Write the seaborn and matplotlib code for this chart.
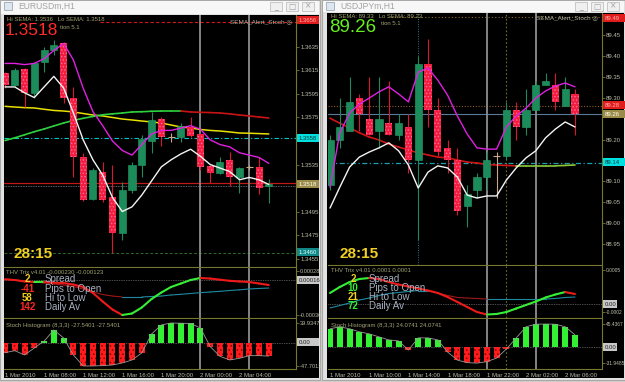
import numpy as np
import pandas as pd
import matplotlib
matplotlib.use("Agg")
import matplotlib.pyplot as plt
import seaborn as sns
from matplotlib.patches import Rectangle

# ---------------- data : EURUSDm H1 ----------------
eur_time_labels = ["1 Mar 2010", "1 Mar 08:00", "1 Mar 12:00", "1 Mar 16:00",
                   "1 Mar 20:00", "2 Mar 00:00", "2 Mar 04:00"]
eur_time_idx = [0, 4, 8, 12, 16, 20, 24]
eur_open = [1.3613, 1.3603, 1.3616, 1.3596, 1.3622, 1.3632, 1.3638, 1.3592, 1.3541, 1.3506,
            1.3529, 1.3507, 1.3477, 1.3513, 1.3535, 1.3555, 1.3574, 1.3558, 1.3558, 1.3567,
            1.3561, 1.3534, 1.3528, 1.3539, 1.3524, 1.3533, 1.3533, 1.3517]
eur_high = [1.3614, 1.3617, 1.3617, 1.3622, 1.3635, 1.3641, 1.3639, 1.3601, 1.3545, 1.3532,
            1.3537, 1.3535, 1.3520, 1.3537, 1.3560, 1.3580, 1.3575, 1.3562, 1.3570, 1.3575,
            1.3562, 1.3535, 1.3541, 1.3546, 1.3533, 1.3535, 1.3541, 1.3523]
eur_low = [1.3600, 1.3602, 1.3584, 1.3592, 1.3614, 1.3628, 1.3587, 1.3524, 1.3504, 1.3505,
           1.3503, 1.3460, 1.3471, 1.3511, 1.3524, 1.3545, 1.3551, 1.3554, 1.3554, 1.3558,
           1.3530, 1.3519, 1.3527, 1.3517, 1.3511, 1.3530, 1.3510, 1.3502]
eur_close = [1.3603, 1.3615, 1.3596, 1.3621, 1.3632, 1.3637, 1.3592, 1.3541, 1.3505, 1.3530,
             1.3505, 1.3477, 1.3513, 1.3535, 1.3557, 1.3573, 1.3558, 1.3558, 1.3568, 1.3559,
             1.3533, 1.3528, 1.3537, 1.3524, 1.3532, 1.3533, 1.3515, 1.3518]
eur_lo_sema = [1.3601, 1.3601, 1.3596, 1.3592, 1.3601, 1.3610, 1.3600, 1.3579, 1.3556, 1.3539,
               1.3526, 1.3507, 1.3495, 1.3499, 1.3509, 1.3521, 1.3533, 1.3539, 1.3544, 1.3548,
               1.3542, 1.3535, 1.3532, 1.3529, 1.3522, 1.3524, 1.3522, 1.3518]
eur_hi_sema = [1.3621, 1.3621, 1.3620, 1.3621, 1.3625, 1.3632, 1.3638, 1.3624, 1.3600, 1.3580,
               1.3568, 1.3555, 1.3547, 1.3543, 1.3552, 1.3561, 1.3564, 1.3564, 1.3566, 1.3568,
               1.3565, 1.3556, 1.3552, 1.3550, 1.3545, 1.3543, 1.3541, 1.3536]
eur_ma_mid = [1.35845, 1.35839, 1.35834, 1.35831, 1.35820, 1.35810, 1.35805, 1.35797, 1.35784,
              1.35771, 1.35763, 1.35750, 1.35737, 1.35729, 1.35720, 1.35712, 1.35703, 1.35686,
              1.35669, 1.35661, 1.35648, 1.35640, 1.35635, 1.35627, 1.35618, 1.35616, 1.35613,
              1.35610]
eur_ma_long = [1.35554, 1.35577, 1.35603, 1.35629, 1.35652, 1.35678, 1.35703, 1.35725, 1.35743,
               1.35759, 1.35773, 1.35781, 1.35788, 1.35797, 1.35799, 1.35803, 1.35805, 1.35805,
               1.35805, 1.35797, 1.35794, 1.35792, 1.35788, 1.35781, 1.35771, 1.35763, 1.35754,
               1.35746]
eur_trix_main = [0.000176, 0.000167, 0.000147, 0.000140, 0.000143, 0.000130, 0.000127, 0.000106,
                 0.000074, -0.000006, -0.000120, -0.000227, -0.000300, -0.000280, -0.000200,
                 -0.000087, 0.000000, 0.000074, 0.000120, 0.000167, 0.000194, 0.000186, 0.000171,
                 0.000156, 0.000147, 0.000140, 0.000120, 0.000100]
eur_trix_signal = [0.000180, 0.000167, 0.000154, 0.000140, 0.000127, 0.000114, 0.000100, 0.000080,
                   0.000047, 0.000007, -0.000027, -0.000047, -0.000060, -0.000060, -0.000060,
                   -0.000053, -0.000047, -0.000033, -0.000024, -0.000013, -0.000002, 0.000007,
                   0.000016, 0.000027, 0.000036, 0.000047, 0.000054, 0.000060]
eur_stoch = [-20.6, -16.5, -25.3, -11.0, 3.0, 25.7, 9.4, -25.3, -47.7, -47.7, -47.0, -45.7, -41.6,
             -35.5, -21.2, 17.5, 36.0, 39.93, 39.5, 39.0, 29.8, -8.0, -28.0, -35.5, -32.0, -26.7,
             -26.7, -27.54]
eur_price_ticks = [1.3635, 1.3615, 1.3595, 1.3575, 1.3535, 1.3495, 1.3475, 1.3455]
eur_vlines = [20, 25]
eur_info_values = ["2", "-41", "58", "142"]

# ---------------- data : USDJPYm H1 ----------------
jpy_time_labels = ["1 Mar 2010", "1 Mar 10:00", "1 Mar 14:00", "1 Mar 18:00",
                   "1 Mar 22:00", "2 Mar 02:00", "2 Mar 06:00"]
jpy_time_idx = [0, 4, 8, 12, 16, 20, 24]
jpy_open = [89.09, 89.20, 89.22, 89.30, 89.25, 89.22, 89.24, 89.21, 89.23, 89.15, 89.38, 89.27, 89.18,
            89.15, 89.04, 89.08, 89.11, 89.16, 89.16, 89.27, 89.23, 89.27, 89.33, 89.33, 89.28, 89.31]
jpy_high = [89.21, 89.30, 89.35, 89.31, 89.35, 89.35, 89.34, 89.26, 89.26, 89.40, 89.44, 89.30, 89.20,
            89.18, 89.09, 89.12, 89.17, 89.17, 89.29, 89.29, 89.32, 89.34, 89.36, 89.36, 89.35, 89.32]
jpy_low = [89.08, 89.18, 89.22, 89.22, 89.21, 89.18, 89.21, 89.20, 89.12, 88.96, 89.23, 89.16, 89.12,
           89.02, 88.99, 89.06, 89.08, 89.06, 89.15, 89.20, 89.21, 89.27, 89.33, 89.27, 89.28, 89.21]
jpy_close = [89.20, 89.23, 89.29, 89.26, 89.21, 89.25, 89.21, 89.24, 89.15, 89.38, 89.27, 89.17, 89.15,
             89.03, 89.07, 89.11, 89.15, 89.16, 89.27, 89.23, 89.27, 89.33, 89.34, 89.29, 89.32, 89.26]
jpy_lo_sema = [89.036, 89.086, 89.134, 89.158, 89.170, 89.180, 89.192, 89.173, 89.139, 89.084, 89.122,
               89.137, 89.132, 89.110, 89.067, 89.060, 89.065, 89.065, 89.103, 89.132, 89.156, 89.173,
               89.204, 89.225, 89.242, 89.230]
jpy_hi_sema = [89.086, 89.216, 89.263, 89.285, 89.299, 89.314, 89.326, 89.309, 89.290, 89.361, 89.371,
               89.342, 89.306, 89.256, 89.213, 89.180, 89.177, 89.177, 89.230, 89.256, 89.275, 89.299,
               89.316, 89.328, 89.335, 89.326]
jpy_ma_long = [89.251, 89.239, 89.228, 89.216, 89.206, 89.199, 89.189, 89.182, 89.175, 89.168, 89.163,
               89.158, 89.156, 89.151, 89.146, 89.144, 89.140, 89.139, 89.138, 89.137, 89.137, 89.137,
               89.137, 89.137, 89.138, 89.139]
jpy_trix_main = [0.000117, 0.000217, 0.000300, 0.000350, 0.000367, 0.000350, 0.000300, 0.000258,
                 0.000225, 0.000192, 0.000158, 0.000117, 0.000050, -0.000033, -0.000117, -0.000200,
                 -0.000242, -0.000233, -0.000200, -0.000142, -0.000083, -0.000025, 0.000042,
                 0.000092, 0.000133, 0.000100]
jpy_trix_signal = [-0.000133, -0.000092, -0.000050, 0.000000, 0.000033, 0.000075, 0.000108, 0.000125,
                   0.000142, 0.000158, 0.000158, 0.000117, 0.000075, 0.000042, 0.000033, 0.000025,
                   0.000017, 0.000017, 0.000017, 0.000017, 0.000017, 0.000017, 0.000017, 0.000025,
                   0.000042, 0.000050]
jpy_stoch = [36, 40, 36, 30, 26, 20, 14, 12, -6, 18, 18, 14, -10, -26, -31, -31.95, -29, -22, -4, 18,
             40, 45, 45.44, 45, 40, 24.07]
jpy_price_ticks = [89.45, 89.40, 89.35, 89.30, 89.20, 89.10, 89.05, 89.00, 88.95]
jpy_vlines = [16, 21]
jpy_info_values = ["2", "10", "21", "72"]

info_names = ["Spread", "Pips to Open", "Hi to Low", "Daily Av"]

# ---------------- style ----------------
sns.set_theme(style="dark")
plt.rcParams['font.family'] = ['Liberation Sans', 'DejaVu Sans']
plt.rcParams['hatch.linewidth'] = 0.6

W, H = 625, 382
OLIVE = '#77772f'
TXT = '#bcbcac'
fig = plt.figure(figsize=(W / 100, H / 100), dpi=100, facecolor='#d4d0c8')


def px_rect(x0, y0, x1, y1):
    return [x0 / W, 1 - y1 / H, (x1 - x0) / W, (y1 - y0) / H]


base = fig.add_axes([0, 0, 1, 1], zorder=0)
base.set_xlim(0, W); base.set_ylim(H, 0); base.axis('off')
over = fig.add_axes([0, 0, 1, 1], zorder=10)
over.set_xlim(0, W); over.set_ylim(H, 0); over.axis('off'); over.patch.set_alpha(0)

# window frames
for x0, x1, cx0, ctop, title in [(0, 320, 4, 15, 'EURUSDm,H1'), (322, 625, 327, 13, 'USDJPYm,H1')]:
    base.add_patch(Rectangle((x0, 0), x1 - x0, 380, facecolor='#e2e2e2', edgecolor='#a8a8a8', lw=0.8))
    base.add_patch(Rectangle((x0 + 1, 1), x1 - x0 - 2, ctop - 2, facecolor='#f7f7f7', edgecolor='none'))
    base.add_patch(Rectangle((cx0, ctop), (x1 - 1) - cx0, 378 - ctop, facecolor='black', edgecolor='none'))
    base.add_patch(Rectangle((x0 + 4, 2), 8, 8, facecolor='#dde6ee', edgecolor='#9aa8b8', lw=0.6))
    base.text(x0 + 18, 6.5, title, fontsize=6.2, color='#a4a4a4', va='center', ha='left')
    for k, g in enumerate(['_', '□', '×']):
        bx = x1 - 50 + k * 16
        base.add_patch(Rectangle((bx, 2), 12, 9, facecolor='#f0f0f0', edgecolor='#c0c0c0', lw=0.6))
        base.text(bx + 6, 6.2, g, fontsize=5.5, color='#a0a0a0', ha='center', va='center',
                  family=['DejaVu Sans'])


def make_ax(rect, xlim, ylim, lsize=4.3):
    ax = fig.add_axes(px_rect(*rect), zorder=1)
    ax.set_facecolor('black')
    ax.set_xlim(*xlim); ax.set_ylim(*ylim)
    ax.grid(False)
    for s in ['top', 'left']:
        ax.spines[s].set_visible(False)
    for s in ['right', 'bottom']:
        ax.spines[s].set_color(OLIVE); ax.spines[s].set_linewidth(0.8)
    ax.yaxis.tick_right()
    ax.tick_params(axis='y', length=2, width=0.6, color=OLIVE, labelcolor=TXT, labelsize=lsize, pad=1.0)
    ax.set_xticks([])
    ax.set_xlabel(''); ax.set_ylabel('')
    return ax


def draw_candles(ax, o, h, l, c):
    df = pd.DataFrame({'o': o, 'h': h, 'l': l, 'c': c})
    df['i'] = np.arange(len(df))
    up = df[df.c > df.o]; dn = df[df.c < df.o]; dj = df[df.c == df.o]
    ax.vlines(up.i, up.l, up.h, color='#1e8a5c', lw=0.8, zorder=3)
    ax.vlines(dn.i, dn.l, dn.h, color='#d81830', lw=0.8, zorder=3)
    ax.vlines(dj.i, dj.l, dj.h, color='#c8a888', lw=0.8, zorder=3)
    ax.bar(up.i, up.c - up.o, bottom=up.o, width=0.72, color='#1c8d5a', edgecolor='#25a06a', lw=0.4, zorder=4)
    ax.bar(dn.i, dn.o - dn.c, bottom=dn.c, width=0.72, color='#f41e3c', edgecolor='#ff6aa8', lw=0,
           hatch='.....', zorder=4)
    ax.hlines(dj.o, dj.i - 0.36, dj.i + 0.36, color='#c8a888', lw=0.8, zorder=4)


def slope_line(ax, vals, up_col, dn_col, lw, z=3):
    v = np.asarray(vals, dtype=float)
    i = np.arange(len(v))
    for k in range(len(v) - 1):
        col = up_col if v[k + 1] >= v[k] else dn_col
        ax.plot(i[k:k + 2], v[k:k + 2], color=col, lw=lw, solid_capstyle='round', zorder=z)


def line(ax, vals, color, lw, z=5):
    sns.lineplot(x=np.arange(len(vals)), y=vals, ax=ax, color=color, linewidth=lw, legend=False, zorder=z)
    ax.set_xlabel(''); ax.set_ylabel('')


def hist(ax, vals):
    v = np.asarray(vals, dtype=float)
    i = np.arange(len(v))
    pos = v > 0
    ax.bar(i[pos], v[pos], width=0.62, color='#33f033', lw=0, zorder=3)
    ax.bar(i[~pos], v[~pos], width=0.62, color='#ff1c1c', edgecolor='#8a0000', lw=0, hatch='....', zorder=3)
    line(ax, v, '#9a9a9a', 0.6, z=4)
    ax.axhline(0, color='#9a9a9a', lw=0.5, ls=(0, (1, 1.5)), zorder=2)


def hl(x, y, text, fc, tc, w=22):
    over.add_patch(Rectangle((x, y - 4), w, 8, facecolor=fc, edgecolor='none'))
    over.text(x + 1.5, y + 0.3, text, fontsize=4.3, color=tc, va='center', ha='left')


def build(spec):
    (xl, xr, top, p_bot, t_bot, s_bot, cx, step, n) = spec['geom']
    xlim = ((xl - cx) / step, (xr - cx) / step)
    pr = spec['price_lim']
    axp = make_ax((xl, top, xr, p_bot), xlim, pr)
    axt = make_ax((xl, p_bot + 1, xr, t_bot), xlim, spec['trix_lim'], spec['sub_size'])
    axs = make_ax((xl, t_bot + 1, xr, s_bot), xlim, spec['stoch_lim'], spec['sub_size'])
    # price panel
    axp.set_yticks(spec['ticks'])
    axp.set_yticklabels([spec['fmt'].format(t) for t in spec['ticks']])
    for (val, col, lw, ls, xmin) in spec['hlines']:
        axp.axhline(val, color=col, lw=lw, ls=ls, xmin=xmin, zorder=2)
    for d in spec.get('dotted_v', []):
        axp.axvline(d[0], color=d[1], lw=0.7, ls=(0, (1, 1.5)), zorder=2)
    for d in spec.get('dotted_all', []):
        for a in (axp, axt, axs):
            a.axvline(d, color='#6e6e30', lw=0.8, ls=(0, (1.5, 2)), zorder=2)
    for a in (axp, axt, axs):
        for v in spec['vlines']:
            a.axvline(v, color='#8e8e8e', lw=1.3, zorder=2)
    if spec['mid'] is not None:
        line(axp, spec['mid'], '#e8e000', 1.1, z=3)
    slope_line(axp, spec['long'], spec['long_up'], spec['long_dn'], 1.2, z=3)
    draw_candles(axp, *spec['ohlc'])
    line(axp, spec['hi'], '#e020e0', 1.0)
    line(axp, spec['lo'], '#f4f4f4', 1.0)
    # trix panel
    axt.set_yticks(spec['trix_ticks'][0]); axt.set_yticklabels(spec['trix_ticks'][1])
    axt.axhline(spec['trix_dot'], color='#9a9a9a', lw=0.5, ls=(0, (1, 1.5)), zorder=2)
    slope_line(axt, spec['sig'], '#1f8aa0', '#a01818', 0.8, z=3)
    slope_line(axt, spec['main'], '#36ee36', '#ee1a1a', 1.5, z=4)
    # stoch panel
    axs.set_yticks(spec['stoch_ticks'][0]); axs.set_yticklabels(spec['stoch_ticks'][1])
    hist(axs, spec['stoch'])
    axs.set_xticks(spec['tidx'])
    axs.set_xticklabels(spec['tlab'], ha='left')
    axs.tick_params(axis='x', length=2, width=0.6, color=OLIVE, labelcolor=TXT, labelsize=4.3, pad=0.8)
    return axp, axt, axs


eur = dict(
    geom=(4, 296, 15, 267, 318, 369, 5, 9.77, 28), sub_size=4.1,
    price_lim=(1.34478, 1.36622), ticks=eur_price_ticks, fmt='{:.4f}',
    hlines=[(1.3656, '#d01818', 0.8, (0, (3, 2)), 0.33), (1.35576, '#00c8c8', 0.8, (0, (4, 2, 1, 2)), 0),
            (1.3519, '#c01818', 0.9, '-', 0), (1.3517, '#7a7a8a', 0.6, (0, (1, 1)), 0),
            (1.3460, '#2e6a2e', 0.7, (0, (3, 2)), 0)],
    vlines=eur_vlines, mid=eur_ma_mid, long=eur_ma_long, long_up='#2ed23e', long_dn='#c81414',
    ohlc=(eur_open, eur_high, eur_low, eur_close), hi=eur_hi_sema, lo=eur_lo_sema,
    trix_lim=(-0.000340, 0.000327), trix_ticks=([0.000287, -0.000300], ['0.000287', '-0.00030']),
    trix_dot=0.000167, sig=eur_trix_signal, main=eur_trix_main,
    stoch_lim=(-53.9, 48.1), stoch_ticks=([39.9347, -47.7013], ['39.9347', '-47.7013']),
    stoch=eur_stoch, tidx=eur_time_idx, tlab=eur_time_labels)

jpy = dict(
    geom=(328, 602, 13, 265, 318, 369, 330, 9.8, 26), sub_size=3.5,
    price_lim=(88.8998, 89.5026), ticks=jpy_price_ticks, fmt='{:.2f}',
    hlines=[(89.493, '#8a6a2a', 0.8, (0, (1, 2)), 0.22), (89.280, '#8a5a2a', 0.8, (0, (1, 1.5)), 0),
            (89.261, '#5a7a9a', 0.8, '-', 0), (89.144, '#1aa0b0', 0.9, (0, (4, 2, 1, 2)), 0)],
    dotted_v=[(9, '#2a7a7a')], dotted_all=[18],
    vlines=jpy_vlines, mid=None, long=jpy_ma_long, long_up='#8ac83a', long_dn='#d01414',
    ohlc=(jpy_open, jpy_high, jpy_low, jpy_close), hi=jpy_hi_sema, lo=jpy_lo_sema,
    trix_lim=(-0.000300, 0.000567), trix_ticks=([0.0005, -0.0002], ['0.0005', '-0.0002']),
    trix_dot=-0.00006, sig=jpy_trix_signal, main=jpy_trix_main,
    stoch_lim=(-43.6, 55.4), stoch_ticks=([45.4367, -31.9485], ['45.4367', '-31.9485']),
    stoch=jpy_stoch, tidx=jpy_time_idx, tlab=jpy_time_labels)

build(eur)
build(jpy)

# ---------------- overlay texts ----------------
OLT = '#a2a272'
# left window
over.text(7, 19.5, 'Hi SEMA: 1.3536   Lo SEMA: 1.3518', fontsize=4.3, color=OLT, va='center')
over.text(60, 27.5, 'tion 5.1', fontsize=4.3, color=OLT, va='center')
over.text(5, 30.5, '1.3518', fontsize=12.5, color='#ff2a2a', va='center')
over.text(292, 22, 'SEMA_Alert_Stoch ◎', fontsize=4.6, color='#b0b0a0', va='center', ha='right')
over.text(13, 254, '28:15', fontsize=11, color='#f0d020', va='center', weight='bold')
over.text(6, 272, 'THV Trix v4.01 -0.000230 -0.000123', fontsize=4.3, color=OLT, va='center')
over.text(6, 325, 'Stoch Histogram (8,3,3) -27.5401 -27.5401', fontsize=4.3, color=OLT, va='center')
for k, (v, col) in enumerate(zip(eur_info_values, ['#f0d020', '#ff2424', '#f0d020', '#ff2424'])):
    y = 279.5 + k * 9.2
    over.text(27.5, y, v, fontsize=7, color=col, ha='center', va='center', weight='bold')
    over.text(45, y, info_names[k], fontsize=7, color='#a8b0c0', ha='left', va='center')
hl(297, 20, '1.3656', '#e01c1c', '#ffb0b0')
hl(297, 138, '1.3558', '#00e0e0', '#003838')
hl(297, 184, '1.3518', '#9c8c4a', '#fffff0')
hl(297, 252, '1.3460', '#108888', '#d8ffff')
hl(297, 280, '0.00016', '#c8c8c8', '#202020')
hl(297, 342, '0.00', '#c8c8c8', '#202020')

# right window
over.text(331, 16.5, 'Hi SEMA: 89.33   Lo SEMA: 89.23', fontsize=4.3, color=OLT, va='center')
over.text(381, 23.5, 'tion 5.1', fontsize=4.3, color=OLT, va='center')
over.text(329, 28, '89.26', fontsize=13.5, color='#66f020', va='center')
over.text(598, 18, 'SEMA_Alert_Stoch ◎', fontsize=4.6, color='#b0b0a0', va='center', ha='right')
over.text(340, 254, '28:15', fontsize=11, color='#f0d020', va='center', weight='bold')
over.text(331, 271, 'THV Trix v4.01 0.0001 0.0001', fontsize=4.3, color=OLT, va='center')
over.text(331, 325, 'Stoch Histogram (8,3,3) 24.0741 24.0741', fontsize=4.3, color=OLT, va='center')
for k, (v, col) in enumerate(zip(jpy_info_values, ['#f0d020', '#36ee36', '#f0d020', '#36ee36'])):
    y = 278.5 + k * 9.1
    over.text(353, y, v, fontsize=7, color=col, ha='center', va='center', weight='bold')
    over.text(369, y, info_names[k], fontsize=7, color='#a8b0c0', ha='left', va='center')
hl(603, 18, '89.49', '#e01c1c', '#ffb0b0')
hl(603, 105, '89.28', '#e01c1c', '#ffb0b0')
hl(603, 114, '89.26', '#9c8c4a', '#fffff0')
hl(603, 162, '89.14', '#00e0e0', '#003838')
hl(603, 304, '0.00', '#c8c8c8', '#202020', w=14)
hl(603, 347, '0.00', '#c8c8c8', '#202020', w=14)

fig.savefig('out.png', dpi=100, facecolor=fig.get_facecolor())
